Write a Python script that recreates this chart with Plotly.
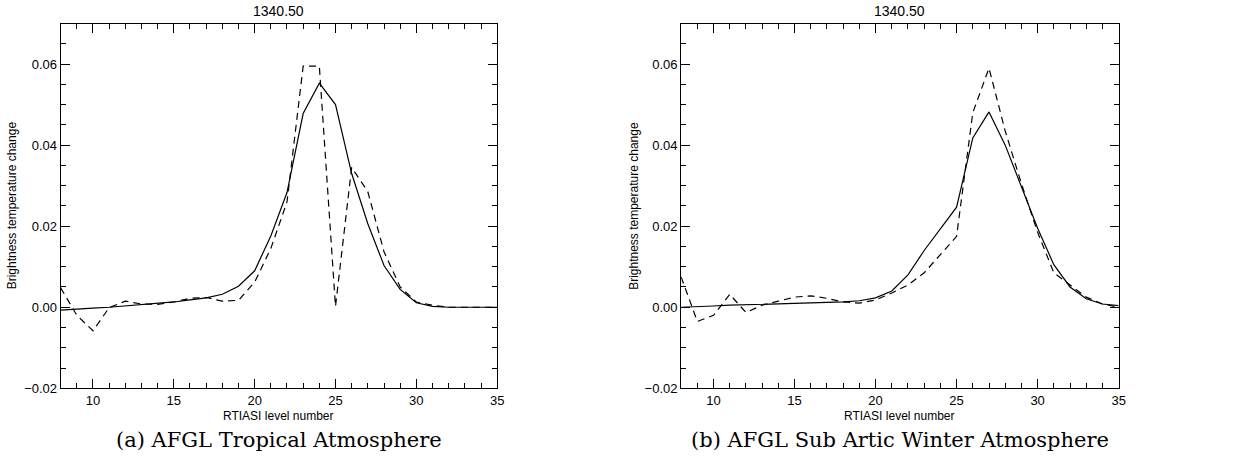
import plotly.graph_objects as go

levels = list(range(8, 36))

trop_solid = [-0.0007, -0.0004, -0.0002, 0.0000, 0.0003, 0.0006, 0.0009, 0.0013, 0.0018, 0.0023,
              0.0032, 0.0052, 0.0090, 0.0176, 0.0283, 0.0478, 0.0553, 0.0500, 0.0330, 0.0206,
              0.0103, 0.0044, 0.0011, 0.0002, 0.0000, 0.0000, 0.0000, 0.0000]
trop_dash = [0.0048, -0.0020, -0.0058, -0.0001, 0.0015, 0.0008, 0.0007, 0.0013, 0.0022, 0.0024,
             0.0015, 0.0017, 0.0062, 0.0145, 0.0260, 0.0595, 0.0595, 0.0002, 0.0345, 0.0285,
             0.0137, 0.0050, 0.0013, 0.0005, 0.0000, 0.0000, 0.0000, 0.0000]

saw_solid = [0.0000, 0.0001, 0.0003, 0.0005, 0.0006, 0.0007, 0.0008, 0.0009, 0.0010, 0.0011,
             0.0013, 0.0016, 0.0023, 0.0040, 0.0080, 0.0140, 0.0195, 0.0247, 0.0418, 0.0482,
             0.0400, 0.0295, 0.0195, 0.0105, 0.0050, 0.0021, 0.0008, 0.0004]
saw_dash = [0.0075, -0.0035, -0.0020, 0.0032, -0.0013, 0.0005, 0.0015, 0.0025, 0.0028, 0.0022,
            0.0013, 0.0010, 0.0018, 0.0035, 0.0055, 0.0085, 0.0130, 0.0175, 0.0480, 0.0590,
            0.0435, 0.0305, 0.0185, 0.0085, 0.0055, 0.0025, 0.0008, 0.0000]

panel_title = "1340.50"
xlabel = "RTIASI level number"
ylabel = "Brightness temperature change"
captions = ["(a) AFGL Tropical Atmosphere", "(b) AFGL Sub Artic Winter Atmosphere"]
ytickvals = [-0.02, 0.0, 0.02, 0.04, 0.06]
xtickvals = [10, 15, 20, 25, 30, 35]

W, H = 1237, 470
fig = go.Figure()

line_solid = dict(color="black", width=1.2)
line_dash = dict(color="black", width=1.2, dash="7px,5px")

fig.add_trace(go.Scatter(x=levels, y=trop_solid, mode="lines", line=line_solid, xaxis="x", yaxis="y"))
fig.add_trace(go.Scatter(x=levels, y=trop_dash, mode="lines", line=line_dash, xaxis="x", yaxis="y"))
fig.add_trace(go.Scatter(x=levels, y=saw_solid, mode="lines", line=line_solid, xaxis="x2", yaxis="y2"))
fig.add_trace(go.Scatter(x=levels, y=saw_dash, mode="lines", line=line_dash, xaxis="x2", yaxis="y2"))

sans = "Liberation Sans"
tickfont = dict(family=sans, size=13, color="black")

doms = [(61 / W, 500 / W), (685 / W, 1125 / W)]
ydom = ((470 - 395) / H, (470 - 24) / H)

def xax(dom, anchor):
    return dict(domain=dom, anchor=anchor, range=[8, 35], tickvals=xtickvals,
                ticks="inside", ticklen=9, tickwidth=1, tickcolor="black",
                showline=True, linecolor="black", linewidth=1, mirror="ticks",
                showgrid=False, zeroline=False, tickfont=tickfont,
                minor=dict(dtick=1, ticks="inside", ticklen=5, tickcolor="black", showgrid=False))

def yax(anchor):
    return dict(domain=ydom, anchor=anchor, range=[-0.02, 0.07], tickvals=ytickvals,
                tickformat=".2f", ticks="inside", ticklen=9, tickwidth=1, tickcolor="black",
                showline=True, linecolor="black", linewidth=1, mirror="ticks",
                showgrid=False, zeroline=False, tickfont=tickfont,
                minor=dict(dtick=0.005, ticks="inside", ticklen=5, tickcolor="black", showgrid=False))

fig.update_layout(
    width=W, height=H, margin=dict(l=0, r=0, t=0, b=0),
    paper_bgcolor="white", plot_bgcolor="white", showlegend=False,
    xaxis=xax(doms[0], "y"), yaxis=yax("x"),
    xaxis2=xax(doms[1], "y2"), yaxis2=yax("x2"),
)

anns = []
ylab_x = [13, 638]
for i, (d0, d1) in enumerate(doms):
    cx = (d0 + d1) / 2
    anns.append(dict(text=panel_title, x=cx, y=1 - 11 / H, xref="paper", yref="paper",
                     showarrow=False, font=dict(family=sans, size=14, color="black"),
                     xanchor="center", yanchor="middle"))
    anns.append(dict(text=xlabel, x=cx, y=1 - 423 / H, xref="paper", yref="paper",
                     showarrow=False, font=dict(family=sans, size=12, color="black"),
                     xanchor="center", yanchor="middle"))
    anns.append(dict(text=ylabel, x=ylab_x[i] / W, y=1 - 209 / H, xref="paper", yref="paper",
                     showarrow=False, textangle=-90, font=dict(family=sans, size=12, color="black"),
                     xanchor="center", yanchor="middle"))
    anns.append(dict(text=captions[i], x=cx, y=1 - 448 / H, xref="paper", yref="paper",
                     showarrow=False, font=dict(family="DejaVu Serif", size=21, color="black"),
                     xanchor="center", yanchor="middle"))
fig.update_layout(annotations=anns)

fig.write_html("out.html")
